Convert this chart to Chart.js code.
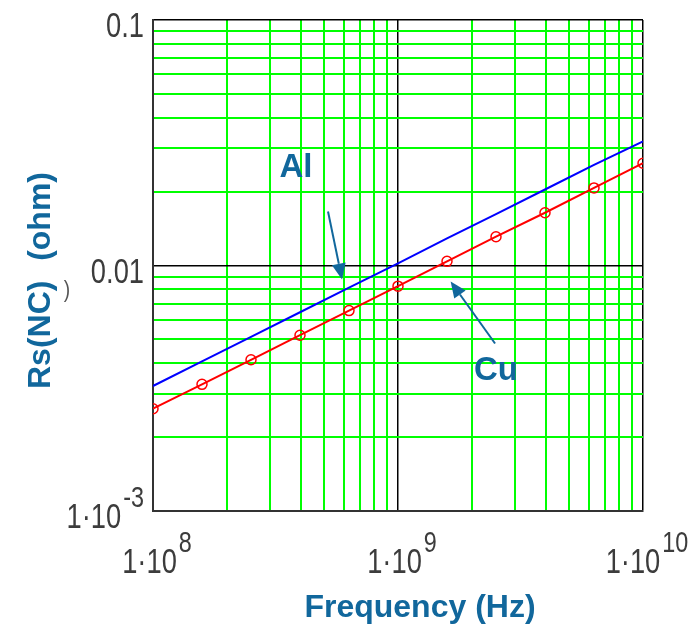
<!DOCTYPE html>
<html><head><meta charset="utf-8">
<script src="https://cdn.jsdelivr.net/npm/chart.js@4.4.0/dist/chart.umd.min.js"></script>
<style>html,body{margin:0;padding:0;background:#fff;} #wrap{width:695px;height:627px;}</style>
</head><body><div id="wrap"><canvas id="c" width="695" height="627"></canvas></div>
<script>
// ---- data ----
const frequencies = [1e8, 1.585e8, 2.512e8, 3.981e8, 6.310e8, 1e9, 1.585e9, 2.512e9, 3.981e9, 6.310e9, 1e10];
const rsAl = [0.00323, 0.00407, 0.00512, 0.00645, 0.00812, 0.0102, 0.0129, 0.0162, 0.0204, 0.0257, 0.0320];
const rsCu = [0.00261, 0.00328, 0.00413, 0.00520, 0.00655, 0.00824, 0.0104, 0.0131, 0.0164, 0.0207, 0.0261];
const seriesNames = ['Al', 'Cu'];

const xDecades = [1e8, 1e9];
const yDecades = [1e-3, 1e-2];
const minorSteps = [1, 2, 3, 4, 5, 6, 7, 8, 9];
const xLabelValues = [1e8, 1e9, 1e10];
const xLabelBase = ['1·10', '1·10', '1·10'];
const xLabelExp = ['8', '9', '10'];
const yLabelValues = [0.1, 0.01, 0.001];
const yLabelBase = ['0.1', '0.01', '1·10'];
const yLabelExp = ['', '', '-3'];
const xTitle = 'Frequency (Hz)';
const yTitleParts = ['Rs(NC)', '(ohm)'];

// annotation anchors (data space)
const annLabelPos = [[3.83e8, 0.0251], [2.51e9, 0.00376]];
const annArrowFrom = [[5.18e8, 0.0166], [2.49e9, 0.00481]];
const annArrowTo = [[5.91e8, 0.00877], [1.64e9, 0.00861]];

const xGrid = xDecades.flatMap(d => minorSteps.map(s => s * d)).concat([1e10]);
const yGrid = yDecades.flatMap(d => minorSteps.map(s => s * d)).concat([1e-1]);
const isDecade = v => Math.abs(Math.log10(v) - Math.round(Math.log10(v))) < 1e-6;

const TITLE_BLUE = '#11679c';
const TICK_FONT = '"Liberation Sans", Arial, sans-serif';
const SX = 0.78;

function drawSci(ctx, base, exp, x, baseline, mode) {
  const bf = '35px ' + TICK_FONT, ef = '30px ' + TICK_FONT;
  ctx.font = bf; const wb = ctx.measureText(base).width * SX;
  ctx.font = ef; const we = exp ? ctx.measureText(exp).width * SX : 0;
  const gap = exp ? 2 : 0;
  const total = wb + gap + we;
  const start = mode === 'center' ? x - total / 2 : x - total;
  ctx.save();
  ctx.textAlign = 'left'; ctx.textBaseline = 'alphabetic';
  ctx.translate(start, baseline); ctx.scale(SX, 1);
  ctx.font = bf; ctx.fillText(base, 0, 0);
  if (exp) { ctx.font = ef; ctx.fillText(exp, (wb + gap) / SX, -21); }
  ctx.restore();
}

function arrow(ctx, x1, y1, x2, y2) {
  const a = Math.atan2(y2 - y1, x2 - x1), L = 16, W = 7;
  ctx.beginPath(); ctx.moveTo(x1, y1);
  ctx.lineTo(x2 - L * Math.cos(a), y2 - L * Math.sin(a)); ctx.stroke();
  ctx.beginPath(); ctx.moveTo(x2, y2);
  ctx.lineTo(x2 - L * Math.cos(a) + W * Math.sin(a), y2 - L * Math.sin(a) - W * Math.cos(a));
  ctx.lineTo(x2 - L * Math.cos(a) - W * Math.sin(a), y2 - L * Math.sin(a) + W * Math.cos(a));
  ctx.closePath(); ctx.fill();
}

const decor = {
  id: 'decor',
  afterDraw(chart) {
    const ctx = chart.ctx, xs = chart.scales.x, ys = chart.scales.y;
    ctx.save();
    ctx.fillStyle = '#3c3c3c';
    xLabelValues.forEach((v, i) => drawSci(ctx, xLabelBase[i], xLabelExp[i], xs.getPixelForValue(v) + 4, 573, 'center'));
    yLabelValues.forEach((v, i) => drawSci(ctx, yLabelBase[i], yLabelExp[i], 144, ys.getPixelForValue(v) + 17, 'right'));
    // stray glyph
    ctx.save();
    ctx.font = '24px ' + TICK_FONT; ctx.fillStyle = '#555'; ctx.textAlign = 'center';
    ctx.translate(67, 297); ctx.scale(0.8, 1); ctx.fillText(')', 0, 0);
    ctx.restore();
    // axis titles
    ctx.fillStyle = TITLE_BLUE;
    ctx.font = 'bold 32px "Liberation Sans", Arial, sans-serif';
    ctx.textAlign = 'center'; ctx.textBaseline = 'alphabetic';
    ctx.fillText(xTitle, 420, 617);
    ctx.save();
    ctx.translate(50, 0); ctx.rotate(-Math.PI / 2);
    ctx.textAlign = 'left'; ctx.fillText(yTitleParts[0], -389, 0);
    ctx.textAlign = 'right'; ctx.fillText(yTitleParts[1], -172, 0);
    ctx.restore();
    // annotations
    ctx.strokeStyle = TITLE_BLUE; ctx.fillStyle = TITLE_BLUE; ctx.lineWidth = 2;
    ctx.font = 'bold 33px "Liberation Sans", Arial, sans-serif';
    ctx.textAlign = 'center'; ctx.textBaseline = 'middle';
    seriesNames.forEach((n, i) => {
      ctx.fillText(n, xs.getPixelForValue(annLabelPos[i][0]), ys.getPixelForValue(annLabelPos[i][1]) + 1);
      arrow(ctx, xs.getPixelForValue(annArrowFrom[i][0]), ys.getPixelForValue(annArrowFrom[i][1]),
                 xs.getPixelForValue(annArrowTo[i][0]), ys.getPixelForValue(annArrowTo[i][1]));
    });
    ctx.restore();
  }
};

const gridOpts = {
  color: c => isDecade(c.tick.value) ? '#000000' : '#00ff00',
  lineWidth: c => isDecade(c.tick.value) ? 1.5 : 2,
  drawTicks: false
};

new Chart(document.getElementById('c'), {
  type: 'line',
  data: {
    datasets: [
      { label: seriesNames[0], data: frequencies.map((f, i) => ({ x: f, y: rsAl[i] })),
        borderColor: '#0000ff', borderWidth: 2, pointRadius: 0, tension: 0, fill: false },
      { label: seriesNames[1], data: frequencies.map((f, i) => ({ x: f, y: rsCu[i] })),
        borderColor: '#ff0000', borderWidth: 2, tension: 0, fill: false,
        pointRadius: 5, pointBackgroundColor: 'rgba(0,0,0,0)', pointBorderColor: '#ff0000', pointBorderWidth: 1.5 }
    ]
  },
  options: {
    responsive: false, animation: false, devicePixelRatio: 1,
    layout: { padding: { left: 153, top: 20, right: 52, bottom: 116 } },
    plugins: { legend: { display: false }, tooltip: { enabled: false } },
    scales: {
      x: { type: 'logarithmic', min: 1e8, max: 1e10, position: 'bottom',
           ticks: { display: false }, grid: gridOpts,
           border: { display: true, color: '#333', width: 2 },
           afterBuildTicks: a => { a.ticks = xGrid.map(v => ({ value: v })); } },
      y: { type: 'logarithmic', min: 1e-3, max: 1e-1, position: 'left',
           ticks: { display: false }, grid: gridOpts,
           border: { display: true, color: '#333', width: 2 },
           afterBuildTicks: a => { a.ticks = yGrid.map(v => ({ value: v })); } }
    }
  },
  plugins: [decor]
});
</script>
</body></html>
